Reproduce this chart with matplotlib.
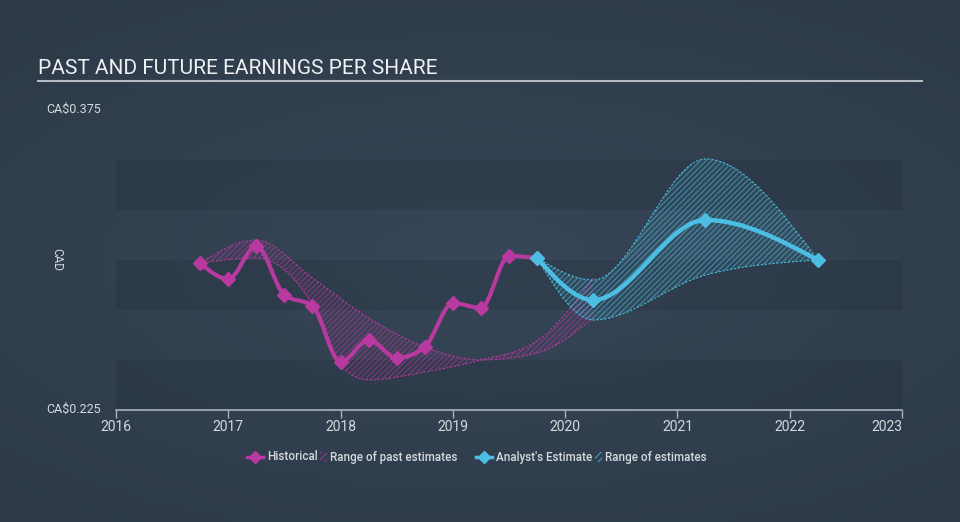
import numpy as np
import matplotlib
matplotlib.use("Agg")
import matplotlib.pyplot as plt
from matplotlib.path import Path
from matplotlib.patches import PathPatch, Rectangle
from matplotlib.lines import Line2D
import matplotlib.transforms as mtransforms

plt.rcParams['font.family'] = ['Roboto', 'DejaVu Sans']
plt.rcParams['hatch.linewidth'] = 0.6

# historical EPS (CA$)
hist_x = [2016.75, 2017.0, 2017.25, 2017.5, 2017.75, 2018.0, 2018.25, 2018.5,
          2018.75, 2019.0, 2019.25, 2019.5, 2019.75]
hist_y = [0.2985, 0.2905, 0.307, 0.2825, 0.277, 0.249, 0.260, 0.251,
          0.2565, 0.2785, 0.276, 0.302, 0.301]

# range of past estimates
past_hi_x = [2016.75, 2017.25, 2017.75, 2018.25, 2018.75, 2019.25, 2019.75, 2020.25]
past_hi_y = [0.2985, 0.310, 0.291, 0.271, 0.2565, 0.250, 0.2535, 0.271]
past_lo_x = [2016.75, 2017.25, 2017.75, 2018.0, 2018.25, 2018.75, 2019.25, 2019.75, 2020.25]
past_lo_y = [0.2985, 0.301, 0.2775, 0.247, 0.240, 0.244, 0.250, 0.2595, 0.291]

# analyst estimate and range
est_x = [2019.75, 2020.25, 2021.25, 2022.25]
est_y = [0.301, 0.280, 0.320, 0.300]
est_hi_y = [0.301, 0.290, 0.3505, 0.300]
est_lo_y = [0.301, 0.270, 0.2925, 0.300]

years = list(range(2016, 2024))

PINK = '#b8399f'
BLUE = '#4cbde3'
TXT = '#d6dade'


def tangents(x, y):
    # monotone cubic slopes (same idea as d3 curveMonotoneX)
    x = np.asarray(x, float)
    y = np.asarray(y, float)
    n = len(x)
    m = np.zeros(n)
    for i in range(1, n - 1):
        h0 = x[i] - x[i - 1]
        h1 = x[i + 1] - x[i]
        s0 = (y[i] - y[i - 1]) / h0
        s1 = (y[i + 1] - y[i]) / h1
        p = (s0 * h1 + s1 * h0) / (h0 + h1)
        m[i] = (np.sign(s0) + np.sign(s1)) * min(abs(s0), abs(s1), 0.5 * abs(p))
    if n > 2:
        m[0] = (3 * (y[1] - y[0]) / (x[1] - x[0]) - m[1]) / 2
        m[-1] = (3 * (y[-1] - y[-2]) / (x[-1] - x[-2]) - m[-2]) / 2
    else:
        m[:] = (y[1] - y[0]) / (x[1] - x[0])
    return m


def bezier_verts(x, y):
    m = tangents(x, y)
    verts = [(x[0], y[0])]
    for i in range(len(x) - 1):
        d = (x[i + 1] - x[i]) / 3
        verts.append((x[i] + d, y[i] + d * m[i]))
        verts.append((x[i + 1] - d, y[i + 1] - d * m[i + 1]))
        verts.append((x[i + 1], y[i + 1]))
    return verts


def curve_path(x, y):
    v = bezier_verts(x, y)
    return Path(v, [Path.MOVETO] + [Path.CURVE4] * (len(v) - 1))


def band_path(xh, yh, xl, yl):
    up = bezier_verts(xh, yh)
    lo = bezier_verts(xl, yl)[::-1]
    verts = up + lo + [up[0]]
    codes = ([Path.MOVETO] + [Path.CURVE4] * (len(up) - 1) + [Path.LINETO]
             + [Path.CURVE4] * (len(lo) - 1) + [Path.CLOSEPOLY])
    return Path(verts, codes)


fig = plt.figure(figsize=(9.6, 5.22), dpi=100)

# background gradient
bg = fig.add_axes([0, 0, 1, 1], zorder=-10)
gx, gy = np.meshgrid(np.linspace(-1, 1, 200), np.linspace(-1, 1, 110))
r = np.clip(np.sqrt((gx * 0.9) ** 2 + (gy * 1.1) ** 2), 0, 1.4)
c0 = np.array([55, 71, 88]) / 255
c1 = np.array([45, 57, 71]) / 255
img = c0[None, None, :] + (c1 - c0)[None, None, :] * (r[..., None] / 1.4)
bg.imshow(img, aspect='auto', extent=[0, 1, 0, 1])
bg.axis('off')

ax = fig.add_axes([116 / 960, 112 / 522, 786 / 960, 300 / 522])
ax.patch.set_alpha(0)
ax.set_xlim(2016, 2023)
ax.set_ylim(0.225, 0.375)

for lo_v in (0.225, 0.275, 0.325):
    ax.axhspan(lo_v, lo_v + 0.025, color='#1c2633', alpha=0.22, lw=0, zorder=0)

# ranges
past_band = band_path(past_hi_x, past_hi_y, past_lo_x, past_lo_y)
ax.add_patch(PathPatch(past_band, facecolor=(0.72, 0.22, 0.62, 0.06),
                       edgecolor=(0.72, 0.22, 0.62, 0.7), hatch='//////', lw=0, zorder=2))
for xs, ys in ((past_hi_x, past_hi_y), (past_lo_x, past_lo_y)):
    ax.add_patch(PathPatch(curve_path(xs, ys), fill=False, edgecolor=PINK, lw=0.8,
                           ls=(0, (2, 1.5)), zorder=2))

est_band = band_path(est_x, est_hi_y, est_x, est_lo_y)
ax.add_patch(PathPatch(est_band, facecolor=(0.30, 0.74, 0.89, 0.10),
                       edgecolor=(0.30, 0.74, 0.89, 0.7), hatch='//////', lw=0, zorder=3))
for ys in (est_hi_y, est_lo_y):
    ax.add_patch(PathPatch(curve_path(est_x, ys), fill=False, edgecolor=BLUE, lw=0.8,
                           ls=(0, (2, 1.5)), zorder=3))

# lines
ax.add_patch(PathPatch(curve_path(hist_x, hist_y), fill=False, edgecolor=PINK, lw=3,
                       capstyle='round', joinstyle='round', zorder=4))
ax.plot(hist_x, hist_y, ls='none', marker='D', ms=7, color=PINK, zorder=5)
ax.add_patch(PathPatch(curve_path(est_x, est_y), fill=False, edgecolor=BLUE, lw=3.2,
                       capstyle='round', zorder=6))
ax.plot(est_x, est_y, ls='none', marker='D', ms=7, color=BLUE, zorder=7)

# axes styling
for s in ('top', 'right', 'left'):
    ax.spines[s].set_visible(False)
ax.spines['bottom'].set_color('#a9b3bf')
ax.spines['bottom'].set_linewidth(1.2)
ax.set_yticks([])
ax.set_xticks(years)
ax.set_xticklabels([str(y) for y in years])
ax.tick_params(axis='x', direction='out', length=6, width=1, color='#a9b3bf',
               labelsize=10, labelcolor=TXT, pad=1)
ax.get_xticklabels()[-1].set_ha('right')

# y labels
tr = mtransforms.blended_transform_factory(fig.transFigure, ax.transData)
ax.text(46 / 960, 0.3755, 'CA\\$0.375', transform=tr, ha='left', va='center',
        fontsize=9, color=TXT)
ax.text(46 / 960, 0.2255, 'CA\\$0.225', transform=tr, ha='left', va='center',
        fontsize=9, color=TXT)
ax.text(50 / 960, 0.3005, 'CAD', transform=tr, ha='left', va='center',
        rotation=270, fontsize=8.5, color=TXT)

# title
fig.text(38 / 960, 1 - 68 / 522, 'PAST AND FUTURE EARNINGS PER SHARE', ha='left',
         va='center', fontsize=15, color='#eef0f2')
fig.add_artist(Line2D([38 / 960, 922 / 960], [1 - 81 / 522] * 2, color='#b5bbc3',
                      lw=1.5, transform=fig.transFigure))

# legend
ly = 1 - 457 / 522
LFS = 8.4
fig.add_artist(Line2D([247 / 960, 263 / 960], [ly, ly], color=PINK, lw=2.5,
                      transform=fig.transFigure))
fig.add_artist(Line2D([255 / 960], [ly], color=PINK, marker='D', ms=6,
                      transform=fig.transFigure))
fig.text(267 / 960, ly, 'Historical', ha='left', va='center', fontsize=LFS,
         color=TXT, weight='medium')
fig.add_artist(Rectangle((320 / 960, ly - 5 / 522), 7 / 960, 10 / 522, facecolor='none',
                         edgecolor=PINK, hatch='/////', lw=0, transform=fig.transFigure))
fig.text(330 / 960, ly, 'Range of past estimates', ha='left', va='center', fontsize=LFS,
         color=TXT, weight='medium')
fig.add_artist(Line2D([476 / 960, 492 / 960], [ly, ly], color=BLUE, lw=2.5,
                      transform=fig.transFigure))
fig.add_artist(Line2D([484 / 960], [ly], color=BLUE, marker='D', ms=6,
                      transform=fig.transFigure))
fig.text(496 / 960, ly, "Analyst's Estimate", ha='left', va='center', fontsize=LFS,
         color=TXT, weight='medium')
fig.add_artist(Rectangle((595 / 960, ly - 5 / 522), 7 / 960, 10 / 522, facecolor='none',
                         edgecolor=BLUE, hatch='/////', lw=0, transform=fig.transFigure))
fig.text(605 / 960, ly, 'Range of estimates', ha='left', va='center', fontsize=LFS,
         color=TXT, weight='medium')

fig.savefig('out.png', dpi=100)
